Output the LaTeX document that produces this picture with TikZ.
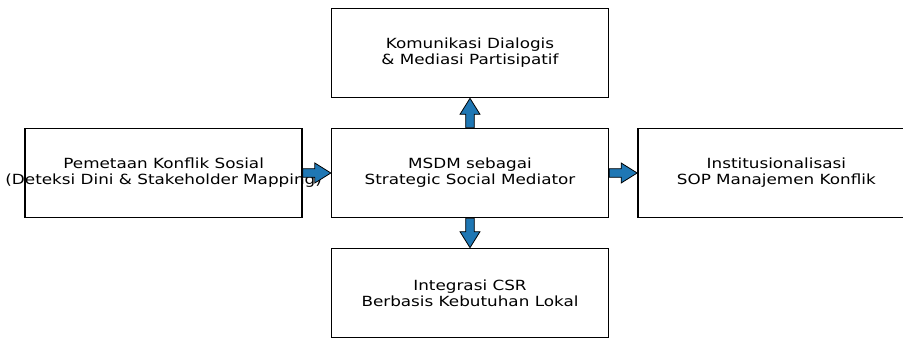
\documentclass[tikz,border=0pt]{standalone}
\usepackage{fontspec}
\setmainfont[FakeStretch=1.2]{DejaVu Sans}
\usepackage{tikz}
\usetikzlibrary{positioning, calc}

\definecolor{arrowblue}{HTML}{1F77B4}

\tikzset{
  box/.style={rectangle, draw, line width=1pt, minimum width=207.75pt, minimum height=67pt, align=center, font=\fontsize{10.5}{11.8}\selectfont},
  fatarrow/.style={draw, fill=arrowblue, line width=0.6pt, line join=miter}
}

% block arrow from #1 to #2 (shaft 3.2pt, head 7.5pt wide, 12pt long)
\newcommand{\blockarrow}[2]{%
  \coordinate (hb) at ($(#2)!12pt!(#1)$);
  \draw[fatarrow] ($(#1)!3.2pt!90:(#2)$) -- ($(hb)!3.2pt!-90:(#1)$) -- ($(hb)!7.5pt!-90:(#1)$) -- (#2)
    -- ($(hb)!7.5pt!90:(#1)$) -- ($(hb)!3.2pt!90:(#1)$) -- ($(#1)!3.2pt!-90:(#2)$) -- cycle;
}

\begin{document}
\begin{tikzpicture}[node distance=22pt and 21pt]
    \clip (-352.5pt,-123.75pt) rectangle (324.75pt,129.75pt);

    \node (msdm) [box] {MSDM sebagai\\Strategic Social Mediator};
    \node (mapping) [box, left=of msdm] {\makebox[0pt]{Pemetaan Konflik Sosial}\\\makebox[0pt]{(Deteksi Dini \& Stakeholder Mapping)}};
    \node (sop) [box, right=of msdm] {Institusionalisasi\\SOP Manajemen Konflik};
    \node (dialog) [box, above=of msdm] {Komunikasi Dialogis\\\& Mediasi Partisipatif};
    \node (csr) [box, below=of msdm] {Integrasi CSR\\Berbasis Kebutuhan Lokal};

    \blockarrow{mapping.east}{msdm.west}
    \blockarrow{msdm.east}{sop.west}
    \blockarrow{msdm.north}{dialog.south}
    \blockarrow{msdm.south}{csr.north}
\end{tikzpicture}
\end{document}
